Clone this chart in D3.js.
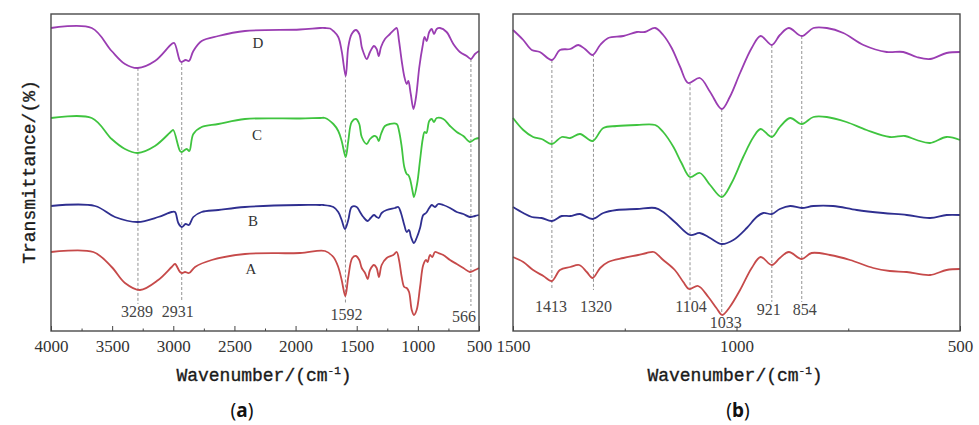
<!DOCTYPE html>
<html>
<head>
  <meta charset="utf-8">
  <title>FTIR spectra</title>
  <script src="https://d3js.org/d3.v7.min.js"></script>
  <style>
    body { margin: 0; background: #fff; }
    svg { display: block; }
    .tick text { font-family: "Liberation Serif", serif; font-size: 17px; fill: #333; }
    .tick line { stroke: #444; }
    .peak { font-family: "Liberation Serif", serif; font-size: 16px; fill: #444; }
    .name { font-family: "Liberation Serif", serif; font-size: 15px; fill: #333; }
    .title { font-family: "Liberation Mono", monospace; font-size: 18px; fill: #1a1a1a; stroke: #1a1a1a; stroke-width: 0.35px; }
  </style>
</head>
<body>
  <svg width="979" height="425"></svg>
  <script>
    // ---- data: [wavenumber, transmittance (offset, a.u.)] ----
    // panel (a), 4000-500 cm-1
    const fullD = [[4000,303],[3667,303],[3504,280],[3395,267],[3291,263],[3150,270],[3013,287],[2992,288],[2945,270],[2931,269],[2899,271],[2872,270],[2836,280],[2768,290],[2632,295],[2414,300],[1964,301.5],[1800,303],[1759,303],[1718,302.5],[1691,300],[1651,294],[1623,280],[1590,255],[1569,284],[1541,297],[1506,301],[1479,297],[1459,284],[1446,279],[1418,272],[1391,279],[1359,285],[1337,282],[1320,275],[1301,284],[1269,292],[1228,297],[1187,302],[1173,303],[1154,290],[1132,270],[1110,254],[1091,247],[1078,250],[1058,237],[1036,222],[1015,234],[988,264],[961,285],[945,294],[928,290],[907,299],[887,302],[868,297],[846,302],[819,303],[765,299],[710,287],[656,279],[601,275],[566,272],[533,277],[500,280]];
    const fullC = [[4000,213],[3667,213],[3504,192],[3395,182],[3291,178],[3150,185],[3013,200],[3000,201],[2945,180],[2931,179],[2890,182],[2869,180],[2836,197],[2768,204],[2632,207],[2414,212],[1964,212.5],[1800,213],[1759,213],[1691,207],[1651,200],[1623,190],[1590,174],[1569,190],[1541,209],[1506,212],[1479,207],[1459,194],[1418,187],[1391,192],[1359,195],[1337,194],[1320,190],[1301,197],[1269,205],[1228,207],[1173,207],[1154,200],[1132,184],[1111,164],[1091,157],[1078,156],[1064,152],[1037,136],[1032,134],[1005,148],[982,171],[960,192],[945,199],[930,198],[907,210],[887,212],[868,209],[846,213],[792,212],[737,205],[682,199],[628,195],[574,189],[533,192],[500,193]];
    const fullB = [[4000,125],[3640,125],[3477,114],[3291,109],[3123,114],[3013,119],[2986,119],[2959,108],[2931,104],[2899,107],[2872,106],[2836,114],[2768,119],[2632,121],[2414,124],[1964,126],[1800,126],[1773,126],[1691,124],[1651,119],[1623,111],[1596,102],[1569,111],[1541,124],[1500,124],[1473,119],[1446,114],[1410,110],[1386,113],[1359,116],[1337,114],[1320,113],[1296,118],[1255,121],[1187,123],[1160,124],[1138,118],[1111,106],[1091,99],[1072,101],[1056,94],[1032,88],[1010,93],[982,103],[956,116],[933,118],[907,123],[887,126],[860,124],[833,127],[792,126],[737,123],[682,119],[628,117],[574,114],[533,115],[500,116]];
    const fullA = [[4000,79],[3654,79],[3504,64],[3395,48],[3272,41],[3123,51],[3013,64],[2986,67],[2945,59],[2926,58],[2904,59],[2871,58],[2822,64],[2686,71],[2414,77],[1964,78],[1759,80],[1691,74],[1651,64],[1623,51],[1593,35],[1569,54],[1536,73],[1506,75],[1479,71],[1459,63],[1432,58],[1410,52],[1391,61],[1359,66],[1337,63],[1318,54],[1296,66],[1255,73],[1201,76],[1173,79],[1154,71],[1132,54],[1111,44],[1091,43],[1072,39],[1050,21],[1032,16],[1010,21],[982,44],[956,66],[933,71],[920,69],[901,76],[882,74],[860,79],[833,78],[792,76],[737,71],[682,67],[628,63],[574,59],[533,61],[500,63]];

    // panel (b), 1500-500 cm-1
    const zoomD = [[1500,301],[1477,291],[1458,281],[1440,279],[1413,271],[1395,281],[1372,282],[1354,286],[1339,282],[1322,276],[1305,286],[1287,293],[1253,295],[1223,299],[1205,299],[1182,303],[1164,296],[1145,283],[1126,264],[1108,248],[1082,253],[1059,239],[1033,222],[1015,234],[992,258],[966,283],[946,295],[921,286],[903,296],[883,303],[854,295],[828,303],[798,303],[761,298],[716,286],[664,279],[627,279],[597,274],[567,272],[530,278],[500,279]];
    const zoomC = [[1500,213],[1477,201],[1455,194],[1436,192],[1413,187],[1391,194],[1372,193],[1350,197],[1322,190],[1298,203],[1268,205],[1223,206],[1182,206],[1164,199],[1141,184],[1123,168],[1104,154],[1082,158],[1059,146],[1033,134],[1011,148],[985,174],[962,194],[946,202],[921,194],[903,204],[880,213],[854,207],[828,214],[798,214],[754,209],[709,201],[657,194],[623,195],[597,191],[567,188],[530,194],[500,191]];
    const zoomB = [[1500,124],[1477,118],[1458,114],[1436,113],[1413,110],[1391,115],[1372,115],[1350,117],[1322,112],[1298,118],[1268,121],[1223,122],[1182,123],[1164,119],[1138,109],[1104,96],[1082,98],[1059,93],[1033,87],[1007,91],[977,103],[955,114],[940,118],[921,117],[903,122],[880,125],[854,123],[828,125],[784,125],[731,121],[672,118],[619,116],[567,113],[530,116],[500,116]];
    const zoomA = [[1500,74],[1477,69],[1455,61],[1432,55],[1413,50],[1395,61],[1372,64],[1352,66],[1335,59],[1322,53],[1305,63],[1287,69],[1253,73],[1220,76],[1201,78],[1185,79],[1164,71],[1138,61],[1119,49],[1106,42],[1086,45],[1063,34],[1045,23],[1032,16],[1015,24],[992,41],[966,63],[946,74],[921,66],[903,73],[883,79],[854,72],[832,78],[791,76],[746,71],[694,63],[657,60],[619,59],[567,56],[530,61],[500,62]];

    const seriesNames = ["A", "B", "C", "D"];
    const seriesColors = ["#c64a4a", "#2f2f90", "#3fc43f", "#9a3db2"];

    const peaksFull = [3289, 2931, 1592, 566];
    const peaksZoom = [1413, 1320, 1104, 1033, 921, 854];

    const ticksFull = [4000, 3500, 3000, 2500, 2000, 1500, 1000, 500];
    const minorFull = [3750, 3250, 2750, 2250, 1750, 1250, 750];
    const ticksZoom = [1500, 1000, 500];
    const minorZoom = [1250, 750];

    // ---- layout ----
    const svg = d3.select("svg");
    const plotTop = 14, plotBottom = 331;

    const y = d3.scaleLinear().domain([0, 317]).range([plotBottom, plotTop]);

    // label placement per peak: [dx, label baseline, dash end]
    const peakFullPos = { 3289: [-1, 317, 304], 2931: [-4, 317, 300], 1592: [1, 320, 304], 566: [-7, 322, 306] };
    const peakZoomPos = { 1413: [-1, 312, 288], 1320: [2.5, 312, 290], 1104: [1, 312, 300], 1033: [4, 328, 315], 921: [-3, 315, 302], 854: [3, 315, 302] };

    function valueAt(data, w) {
      for (let i = 0; i < data.length - 1; i++) {
        const a = data[i], b = data[i + 1];
        if (w <= a[0] && w >= b[0]) {
          const t = (a[0] - w) / (a[0] - b[0]);
          return a[1] + t * (b[1] - a[1]);
        }
      }
      return data[0][1];
    }

    function panel(opts) {
      const x = d3.scaleLinear().domain(opts.domain).range(opts.range);
      const g = svg.append("g");

      // dashed peak guides
      g.append("g").selectAll("line")
        .data(opts.peaks)
        .join("line")
        .attr("x1", d => x(d)).attr("x2", d => x(d))
        .attr("y1", d => y(valueAt(opts.series[3], d)))
        .attr("y2", d => opts.pos[d][2])
        .attr("stroke", "#777")
        .attr("stroke-width", 0.8)
        .attr("stroke-dasharray", "3,2");

      g.append("g").selectAll("text")
        .data(opts.peaks)
        .join("text")
        .attr("class", "peak")
        .attr("text-anchor", "middle")
        .attr("x", d => x(d) + opts.pos[d][0])
        .attr("y", d => opts.pos[d][1])
        .text(d => d);

      const line = d3.line()
        .x(d => x(d[0]))
        .y(d => y(d[1]))
        .curve(d3.curveCatmullRom.alpha(0.5));

      g.append("g").selectAll("path")
        .data(opts.series)
        .join("path")
        .attr("d", line)
        .attr("fill", "none")
        .attr("stroke", (d, i) => seriesColors[i])
        .attr("stroke-width", 1.8)
        .attr("stroke-linejoin", "round");

      // box
      g.append("rect")
        .attr("x", opts.range[0]).attr("y", plotTop)
        .attr("width", opts.range[1] - opts.range[0])
        .attr("height", plotBottom - plotTop)
        .attr("fill", "none")
        .attr("stroke", "#4a4a4a")
        .attr("stroke-width", 1.4);

      // ticks point inward
      const ax = g.append("g")
        .attr("transform", `translate(0,${plotBottom})`)
        .call(d3.axisBottom(x).tickValues(opts.ticks).tickSizeInner(-5).tickSizeOuter(0).tickFormat(d3.format("d")));
      ax.select(".domain").remove();
      ax.selectAll("text").attr("y", 21).attr("dy", 0);

      const mx = g.append("g")
        .attr("transform", `translate(0,${plotBottom})`)
        .call(d3.axisBottom(x).tickValues(opts.minor).tickSizeInner(-2.5).tickSizeOuter(0).tickFormat(""));
      mx.select(".domain").remove();

      const title = g.append("text")
        .attr("class", "title")
        .attr("text-anchor", "middle")
        .attr("x", opts.titleX)
        .attr("y", 381);
      title.append("tspan").text("Wavenumber/(cm");
      title.append("tspan").attr("dy", -7).attr("font-size", 11).text("-1");
      title.append("tspan").attr("dy", 7).text(")");

      const tag = g.append("text")
        .attr("x", opts.tagX).attr("y", 417)
        .attr("text-anchor", "middle")
        .attr("font-family", "Noto Sans, sans-serif")
        .attr("font-size", 19)
        .attr("fill", "#111");
      tag.append("tspan").text("(");
      tag.append("tspan").attr("font-weight", "bold").text(opts.tag);
      tag.append("tspan").text(")");

      return { x, g };
    }

    panel({
      domain: [4000, 500], range: [51, 479],
      series: [fullA, fullB, fullC, fullD],
      peaks: peaksFull, pos: peakFullPos,
      ticks: ticksFull, minor: minorFull,
      titleX: 264, tag: "a", tagX: 242
    });

    panel({
      domain: [1500, 500], range: [513, 960],
      series: [zoomA, zoomB, zoomC, zoomD],
      peaks: peaksZoom, pos: peakZoomPos,
      ticks: ticksZoom, minor: minorZoom,
      titleX: 735, tag: "b", tagX: 738
    });

    // series names in panel (a)
    const nameY = [274, 226, 140, 48];
    const nameX = [251, 253, 257, 258];
    svg.append("g").selectAll("text")
      .data(seriesNames)
      .join("text")
      .attr("class", "name")
      .attr("text-anchor", "middle")
      .attr("x", (d, i) => nameX[i])
      .attr("y", (d, i) => nameY[i])
      .text(d => d);

    svg.append("text")
      .attr("class", "title")
      .attr("transform", "translate(35,172) rotate(-90)")
      .attr("text-anchor", "middle")
      .attr("font-size", 17)
      .text("Transmittance/(%)");
  </script>
</body>
</html>
